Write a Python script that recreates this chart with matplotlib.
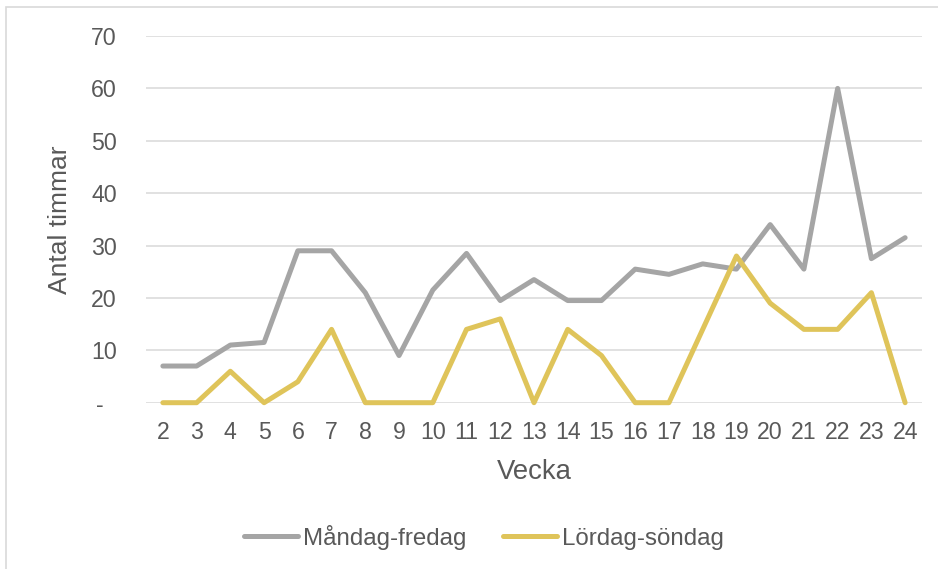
import matplotlib
matplotlib.use("Agg")
import matplotlib.pyplot as plt
from matplotlib.patches import Rectangle
from matplotlib.lines import Line2D

weeks = [2, 3, 4, 5, 6, 7, 8, 9, 10, 11, 12, 13, 14, 15, 16, 17, 18, 19, 20, 21, 22, 23, 24]
mandag_fredag = [7, 7, 11, 11.5, 29, 29, 21, 9, 21.5, 28.5, 19.5, 23.5, 19.5, 19.5, 25.5, 24.5, 26.5, 25.5, 34, 25.5, 60, 27.5, 31.5]
lordag_sondag = [0, 0, 6, 0, 4, 14, 0, 0, 0, 14, 16, 0, 14, 9, 0, 0, 14, 28, 19, 14, 14, 21, 0]
y_ticks = [0, 10, 20, 30, 40, 50, 60, 70]
y_tick_labels = ["-  ", "10", "20", "30", "40", "50", "60", "70"]
series_names = ["Måndag-fredag", "Lördag-söndag"]

plt.rcParams['font.family'] = ['Liberation Sans', 'DejaVu Sans']
text_color = "#595959"
grey = "#A5A5A5"
gold = "#DFC45A"

fig = plt.figure(figsize=(9.38, 5.69), dpi=100)
fig.patch.set_facecolor("white")

# outer chart frame (partially visible)
fig.patches.append(Rectangle((6/938, -0.05), 1.2, (1 - 7/569) + 0.05, transform=fig.transFigure,
                             fill=False, edgecolor="#D9D9D9", linewidth=1.2))

ax = fig.add_axes([146/938, 1 - 402.7/569, (922-146)/938, (402.7-36)/569])
ax.set_xlim(1.5, 24.5)
ax.set_ylim(0, 70)
for s in ax.spines.values():
    s.set_visible(False)
ax.set_yticks(y_ticks)
ax.set_yticklabels(y_tick_labels)
ax.set_xticks(weeks)
ax.set_xticklabels([str(w) for w in weeks])
ax.tick_params(axis='both', length=0, labelsize=16.7, labelcolor=text_color)
ax.tick_params(axis='y', pad=21)
ax.tick_params(axis='x', pad=13)
ax.grid(axis='y', color="#D9D9D9", linewidth=1.1)
ax.set_axisbelow(True)

ax.plot(weeks, mandag_fredag, color=grey, linewidth=3.6, solid_joinstyle='round', solid_capstyle='round', label=series_names[0], clip_on=False)
ax.plot(weeks, lordag_sondag, color=gold, linewidth=3.6, solid_joinstyle='round', solid_capstyle='round', label=series_names[1], clip_on=False)

ax.set_xlabel("Vecka", fontsize=19.8, color=text_color, labelpad=11)
ax.set_ylabel("Antal timmar", fontsize=19, color=text_color, labelpad=14)

handles = [Line2D([0], [0], color=grey, linewidth=3.6, solid_capstyle='round'),
           Line2D([0], [0], color=gold, linewidth=3.6, solid_capstyle='round')]
fig.legend(handles, series_names, loc='center', bbox_to_anchor=(484/938, 1 - 537/569), ncol=2,
           frameon=False, fontsize=17.4, labelcolor=text_color, handlelength=2.25,
           handletextpad=0.2, columnspacing=1.5)

fig.savefig("out.png", dpi=100)
